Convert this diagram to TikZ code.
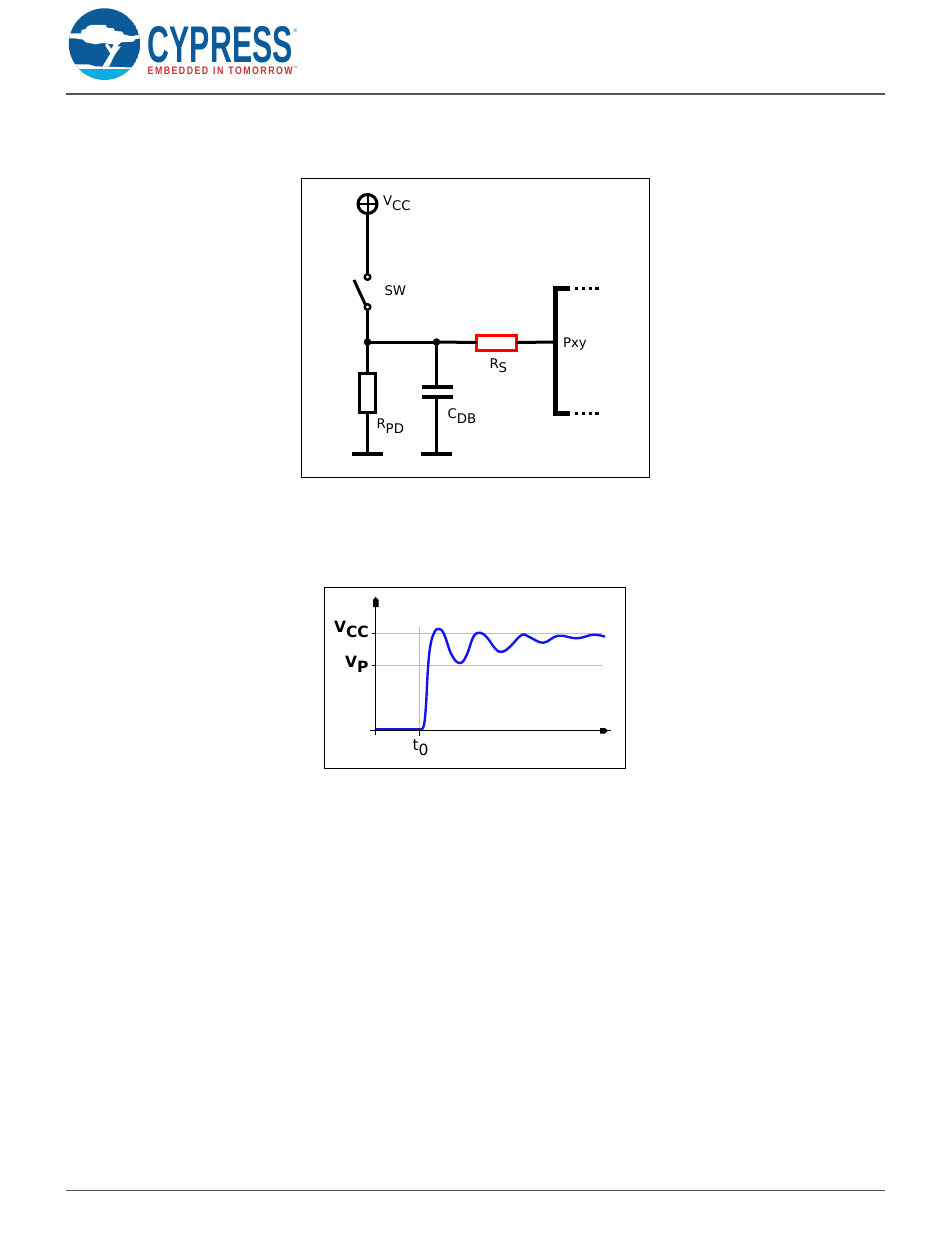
\documentclass[tikz,border=0pt]{standalone}
\usepackage{fontspec}
\setmainfont{DejaVu Sans}
\newfontfamily\logofont{Liberation Sans}
\definecolor{cyblue}{HTML}{0B5A9A}
\definecolor{cylight}{HTML}{0BADE3}
\definecolor{cyred}{HTML}{C8323A}
\definecolor{rulegray}{HTML}{555555}
\definecolor{gridgray}{HTML}{BDBDBD}
\definecolor{wave}{HTML}{1414F0}
\newcommand{\subdrop}[3]{#1\raisebox{-#3pt}{#2}}
\tikzset{
  x=1pt,y=-1pt,
  wire/.style={line width=3pt,draw=black},
  frame/.style={line width=1pt,draw=black},
  lab/.style={anchor=base west,inner sep=0pt,outer sep=0pt,font=\fontsize{13.3}{13}\selectfont,text=black},
  blab/.style={anchor=base west,inner sep=0pt,outer sep=0pt,font=\fontsize{15.5}{15}\selectfont\bfseries},
  tlab/.style={anchor=base west,inner sep=0pt,outer sep=0pt,font=\fontsize{15.5}{15}\selectfont},
  res/.style={draw=black,line width=3pt,fill=white,inner sep=0pt,outer sep=0pt},
  dotj/.style={circle,fill=black,inner sep=0pt,minimum size=7.5pt,outer sep=0pt},
  contact/.style={circle,draw=black,line width=2.4pt,fill=white,inner sep=0pt,minimum size=5.6pt,outer sep=0pt},
  grid/.style={line width=.9pt,draw=gridgray},
  axis/.style={line width=1pt,draw=black},
}
\begin{document}
\begin{tikzpicture}
\useasboundingbox (0,0) rectangle (950,1241);
\fill[white] (0,0) rectangle (950,1241);
% header and footer rules
\coordinate (hl) at (66,94); \coordinate (hr) at (885,94);
\coordinate (fl) at (66,1190.5); \coordinate (fr) at (885,1190.5);
\draw[line width=1.4pt,draw=rulegray] (hl) -- (hr);
\draw[line width=.8pt,draw=rulegray] (fl) -- (fr);
% logo
\begin{scope}
\clip (104.5,44) circle (35.7);
\fill[cyblue] (104.5,44) circle (35.7);
\begin{scope}[shift={(65,5)},x=.3333pt,y=-.3333pt]
\fill[white] (10,85) -- (48,85) -- (50,75) -- (62,72) -- (66,65) -- (78,60) -- (122,60) -- (126,68) -- (146,70) -- (150,78) -- (172,80) -- (176,88) -- (198,94) -- (230,88) -- (230,100) -- (212,102) -- (205,110) -- (168,112) -- (156,124) -- (168,124) -- (150,148) -- (132,185) -- (112,185) -- (136,146) -- (120,120) -- (128,116) -- (140,132) -- (146,118) -- (112,114) -- (92,118) -- (62,112) -- (54,104) -- (30,100) -- (10,100) -- cycle;
\fill[white] (30,178) -- (70,178) -- (90,184) -- (220,188) -- (220,200) -- (30,200) -- cycle;
\end{scope}
\fill[cylight] (60,69) rectangle (150,85);
\end{scope}
\node[anchor=south west,inner sep=0pt] (cyp) at (147.5,63.5) {\resizebox{145pt}{36pt}{\logofont\bfseries\color{cyblue}CYPRESS}};
\node[anchor=south west,inner sep=0pt] (emb) at (147.5,75) {\resizebox{145pt}{7.6pt}{\logofont\bfseries\color{cyred}E\,M\,B\,E\,D\,D\,E\,D\ \ I\,N\ \ T\,O\,M\,O\,R\,R\,O\,W}};
\node[anchor=base west,inner sep=0pt,font=\fontsize{5}{5}\selectfont\logofont,text=cyblue] (reg) at (293.5,33) {®};
\node[anchor=base west,inner sep=0pt,font=\fontsize{4}{4}\selectfont\logofont\bfseries,text=cyred] (tm) at (293.5,70) {™};
% frames
\draw[frame] (301.5,179) rectangle (649.5,477.5);
\draw[frame] (324.5,587.5) rectangle (625.5,768.5);
% circuit nodes
\node[circle,draw=black,line width=3pt,inner sep=0pt,minimum size=19pt,outer sep=0pt] (vcc) at (367.5,204) {};
\node[contact] (c1) at (367.5,277) {};
\node[contact] (c2) at (367.5,307) {};
\coordinate (lever) at (354,280);
\node[dotj] (j1) at (367.5,342) {};
\node[dotj] (j2) at (436.5,342) {};
\node[res,minimum width=15.5pt,minimum height=39pt] (rpd) at (367.5,392.5) {};
\node[draw=red,line width=3pt,fill=white,inner sep=0pt,outer sep=0pt,minimum width=39.5pt,minimum height=15pt] (rs) at (496.5,342.5) {};
\coordinate (busm) at (555.5,342);
\coordinate (bust) at (555.5,288.5);
\coordinate (busb) at (555.5,413.5);
\coordinate (topend) at (570,288.5);
\coordinate (botend) at (570,413.5);
\coordinate (topdots) at (575,288.5);
\coordinate (topdotse) at (600,288.5);
\coordinate (botdots) at (575,413.5);
\coordinate (botdotse) at (600,413.5);
\coordinate (gndA) at (367.5,454);
\coordinate (gndAl) at (352,454);
\coordinate (gndAr) at (383,454);
\coordinate (gndB) at (436.5,454);
\coordinate (gndBl) at (421,454);
\coordinate (gndBr) at (452,454);
\coordinate (capT) at (436.5,387);
\coordinate (capTl) at (422,387);
\coordinate (capTr) at (453,387);
\coordinate (capB) at (436.5,397);
\coordinate (capBl) at (422,397);
\coordinate (capBr) at (453,397);
% vcc cross
\draw[line width=2pt] (vcc.north) -- (vcc.south);
\draw[line width=2pt] (vcc.west) -- (vcc.east);
% wires
\draw[wire] (vcc.south) -- (c1.north);
\draw[wire] (lever) -- (c2.north west);
\draw[wire] (c2.south) -- (j1.center);
\draw[wire] (j1.center) -- (j2.center);
\draw[wire] (j2.center) -- (rs.west);
\draw[wire] (rs.east) -- (busm);
\draw[wire] (j1.center) -- (rpd.north);
\draw[wire] (rpd.south) -- (gndA);
\draw[wire] (j2.center) -- (capT);
\draw[wire] (capB) -- (gndB);
\draw[line width=4pt] (gndAl) -- (gndAr);
\draw[line width=4pt] (gndBl) -- (gndBr);
\draw[line width=4pt] (capTl) -- (capTr);
\draw[line width=4pt] (capBl) -- (capBr);
\draw[line width=4.4pt,line join=miter] (topend) -- (bust) -- (busb) -- (botend);
\draw[line width=3.6pt,dash pattern=on 3.4pt off 3.4pt] (topdots) -- (topdotse);
\draw[line width=3.6pt,dash pattern=on 3.4pt off 3.4pt] (botdots) -- (botdotse);
% circuit labels
\node[lab] (tvcc) at (383,206) {\subdrop{V}{CC}{5}};
\node[lab] (tsw) at (384.5,295.5) {SW};
\node[lab] (trs) at (489.5,368) {\subdrop{R}{S}{4}};
\node[lab] (tpxy) at (563,347) {Pxy};
\node[lab] (trpd) at (376.5,428) {\subdrop{R}{PD}{5}};
\node[lab] (tcdb) at (447.5,418) {\subdrop{C}{DB}{5}};
% waveform grid and axes
\coordinate (yb) at (375.7,735);
\coordinate (yt) at (375.7,597);
\coordinate (xl) at (370,730.7);
\coordinate (xr) at (611,730.7);
\coordinate (gtop) at (419.3,627);
\coordinate (gbot) at (419.3,736);
\coordinate (vccl) at (372,633.7);
\coordinate (vccr) at (602,633.7);
\coordinate (vpl) at (372,665.3);
\coordinate (vpr) at (602,665.3);
\draw[grid] (gtop) -- (419.3,730.7);
\draw[grid] (375.7,633.7) -- (vccr);
\draw[grid] (375.7,665.3) -- (vpr);
\draw[axis] (vccl) -- (375.7,633.7);
\draw[axis] (vpl) -- (375.7,665.3);
\draw[axis] (yb) -- (yt);
\draw[axis] (xl) -- (xr);
\draw[axis] (419.3,730.7) -- (gbot);
\fill (375.7,597) -- (378.5,600) -- (378.5,607) -- (373,607) -- (373,600) -- cycle;
\fill (608,730.7) -- (605,733.5) -- (600,733.5) -- (600,728) -- (605,728) -- cycle;
% waveform
\draw[wave,line width=2.4pt,line join=round] plot[smooth,tension=.7] coordinates {(421.5,729) (424,725) (426,705) (428,668) (430.5,645) (434.5,632) (439,629) (444,634) (451.7,655) (460,663) (466.7,655) (473.3,637) (480,632.7) (487,637.5) (495,648.3) (501.7,652) (510,646.7) (521.7,635) (530,637.3) (543.3,642.7) (558.3,635.7) (576.7,638.3) (593.3,634.7) (605,636.7)};
\draw[wave,line width=2.4pt] (375.7,729) -- (421.5,729);
% waveform labels
\node[blab] (tvcc2) at (334,632) {\subdrop{V}{CC}{5}};
\node[blab] (tvp) at (345,667) {\subdrop{V}{P}{5}};
\node[tlab] (tt0) at (412.5,750) {\subdrop{t}{0}{5}};
\end{tikzpicture}
\end{document}
